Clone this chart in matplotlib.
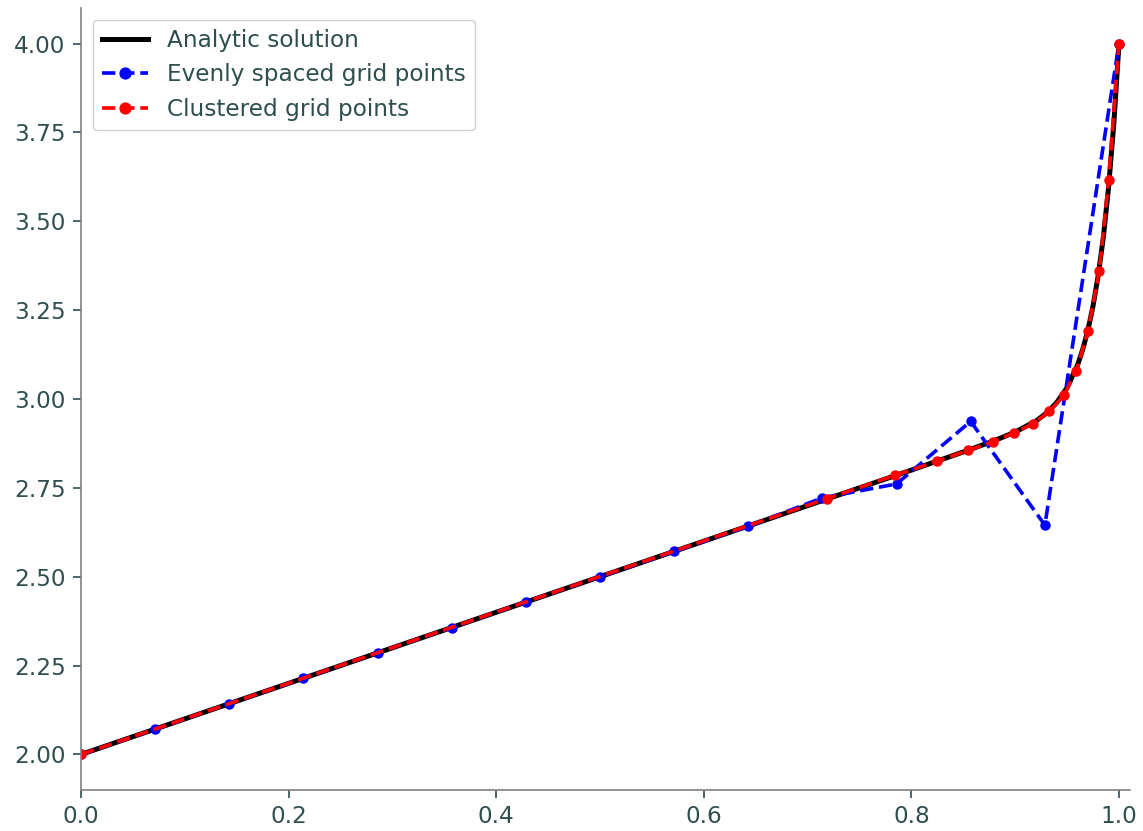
import matplotlib.pyplot as plt
import numpy as np

# analytic solution
x_exact = [0.0, 0.2, 0.4, 0.6, 0.7, 0.8, 0.85, 0.88, 0.9, 0.92, 0.93, 0.94,
           0.95, 0.96, 0.965, 0.97, 0.975, 0.98, 0.985, 0.99, 0.995, 1.0]
y_exact = [2.0, 2.2, 2.4, 2.6, 2.7, 2.8, 2.851, 2.883, 2.907, 2.938, 2.960,
           2.990, 3.032, 3.095, 3.139, 3.193, 3.262, 3.348, 3.457, 3.597, 3.774, 4.0]

# evenly spaced grid (15 points)
x_even = [0.0, 0.0714, 0.1429, 0.2143, 0.2857, 0.3571, 0.4286, 0.5, 0.5714,
          0.6429, 0.7143, 0.7857, 0.8571, 0.9286, 1.0]
y_even = [2.0, 2.071, 2.143, 2.214, 2.286, 2.357, 2.429, 2.5, 2.571,
          2.642, 2.722, 2.761, 2.937, 2.645, 4.0]

# clustered grid
x_clust = [0.0, 0.719, 0.784, 0.825, 0.855, 0.879, 0.899, 0.917, 0.933,
           0.947, 0.959, 0.970, 0.981, 0.990, 1.0]
y_clust = [2.0, 2.720, 2.785, 2.825, 2.856, 2.880, 2.905, 2.930, 2.965,
           3.010, 3.080, 3.190, 3.359, 3.616, 4.0]

TEXT_COLOR = "#2F4F4F"
SPINE_COLOR = "#808080"

plt.rcParams["font.family"] = ["DejaVu Sans"]
plt.rcParams["font.size"] = 16.7

fig = plt.figure(figsize=(11.43, 8.31), dpi=100)
ax = fig.add_axes([81 / 1143, 41 / 831, (1130 - 81) / 1143, (790 - 8) / 831])

ax.plot(x_exact, y_exact, color="black", lw=3.6, label="Analytic solution")
ax.plot(x_even, y_even, "--o", color="blue", lw=2.6, ms=6.5,
        label="Evenly spaced grid points")
ax.plot(x_clust, y_clust, "--o", color="red", lw=2.6, ms=6.5,
        label="Clustered grid points")

ax.set_xlim(0, 1.0106)
ax.set_ylim(1.9, 4.1)
ax.set_yticks(np.arange(2.0, 4.01, 0.25))
ax.yaxis.set_major_formatter(plt.FormatStrFormatter("%.2f"))

for side in ("top", "right"):
    ax.spines[side].set_visible(False)
for side in ("left", "bottom"):
    ax.spines[side].set_color(SPINE_COLOR)
    ax.spines[side].set_linewidth(1.2)
ax.tick_params(colors=TEXT_COLOR, labelsize=16.7, length=6, width=1.2, pad=5)

leg = ax.legend(loc="upper left", fontsize=16.7, framealpha=1,
                borderaxespad=0.5, handlelength=2.0, markerscale=1.2)
leg.get_frame().set_edgecolor("#d0d0d0")
for t in leg.get_texts():
    t.set_color(TEXT_COLOR)

fig.savefig("out.png", dpi=100)
